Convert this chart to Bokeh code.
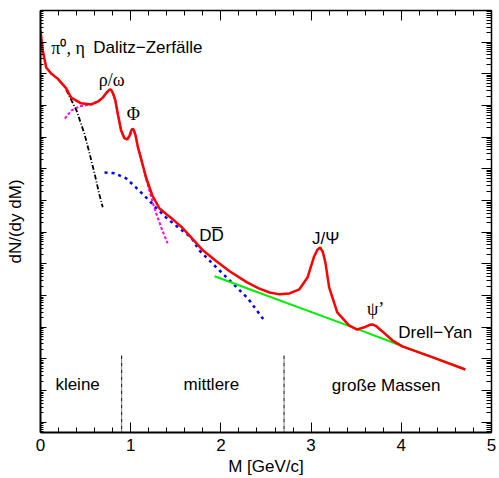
import numpy as np
from bokeh.plotting import figure
from bokeh.models import FixedTicker, LinearAxis, LogAxis, Range1d, CustomJSTickFormatter
from bokeh.core.properties import value
from bokeh.embed import file_html
from bokeh.resources import INLINE

# ---- data (mass in GeV/c, log10 of dN/(dy dM)) ----
total_m = [0.00, 0.025, 0.063, 0.118, 0.19, 0.285, 0.34, 0.45, 0.56, 0.64, 0.69, 0.734,
           0.76, 0.775, 0.79, 0.81, 0.83, 0.856, 0.894, 0.93, 0.96, 0.985, 1.005, 1.02, 1.035, 1.055, 1.08, 1.12,
           1.17, 1.24, 1.32, 1.40, 1.47, 1.57, 1.67, 1.80, 1.94, 2.10, 2.29, 2.42, 2.54,
           2.65, 2.76, 2.87, 2.96, 3.03, 3.07, 3.10, 3.13, 3.16, 3.20, 3.29, 3.42, 3.51, 3.59, 3.65, 3.68,
           3.72, 3.79, 3.90, 4.01, 4.35, 4.71]
total_log = [-0.63, -1.26, -1.80, -1.99, -2.15, -2.46, -2.75, -2.93, -2.97, -2.87, -2.75, -2.59,
             -2.51, -2.49, -2.53, -2.66, -2.84, -3.25, -3.79, -4.03, -4.07, -3.97, -3.80, -3.73, -3.77, -3.95, -4.31, -4.73,
             -5.27, -5.84, -6.25, -6.44, -6.60, -6.85, -7.16, -7.57, -7.89, -8.24, -8.58, -8.77, -8.90,
             -8.96, -8.93, -8.80, -8.43, -7.79, -7.55, -7.48, -7.62, -7.98, -8.74, -9.53, -9.94, -10.07, -10.00, -9.92, -9.91,
             -9.96, -10.13, -10.41, -10.60, -10.95, -11.33]

dalitz_m = [0.284, 0.40, 0.487, 0.54, 0.60, 0.65, 0.69]
dalitz_log = [-2.50, -3.16, -3.89, -4.47, -5.15, -5.78, -6.21]

vector_m = [0.27, 0.34, 0.43, 0.54, 0.64, 0.69, 0.734, 0.775, 0.80, 0.83, 0.856, 0.894,
            0.93, 0.96, 0.997, 1.02, 1.05, 1.08, 1.12, 1.17, 1.26, 1.35, 1.41]
vector_log = [-3.41, -3.16, -3.03, -2.97, -2.87, -2.75, -2.59, -2.49, -2.59, -2.84, -3.25, -3.79,
              -4.03, -4.07, -3.91, -3.73, -3.89, -4.31, -4.73, -5.30, -6.22, -6.94, -7.35]

charm_m = [0.71, 0.82, 0.95, 1.06, 1.17, 1.28, 1.39, 1.54, 1.67, 1.76, 1.95, 2.13, 2.30, 2.48]
charm_log = [-5.11, -5.14, -5.30, -5.59, -5.90, -6.22, -6.53, -6.88, -7.16, -7.57, -8.11, -8.61, -9.09, -9.78]

dy_m = [1.93, 2.31, 3.50, 4.00, 4.71]
dy_log = [-8.39, -8.79, -10.04, -10.58, -11.33]

region_bounds = [0.9, 2.7]
x_ticks = [0, 1, 2, 3, 4, 5]
y_decades = list(range(-13, 1))

FONT = "Liberation Sans"
SERIF = "Liberation Serif"

p = figure(width=499, height=478, output_backend="svg", toolbar_location=None,
           y_axis_type="log", x_range=Range1d(0, 5),
           y_range=Range1d(10 ** -13.32, 1.0),
           min_border_left=40, min_border_right=8, min_border_top=10, min_border_bottom=46)
p.xgrid.visible = False
p.ygrid.visible = False
p.outline_line_color = None
p.background_fill_color = "white"
p.border_fill_color = "white"

xt = FixedTicker(ticks=x_ticks, minor_ticks=[i * 0.2 for i in range(26)])
yt = FixedTicker(ticks=[10.0 ** k for k in y_decades],
                 minor_ticks=[m * 10.0 ** k for k in range(-14, 1) for m in range(1, 10)])
blank = CustomJSTickFormatter(code="return ''")

def style_axis(ax, major_in, minor_in, lw):
    ax.major_tick_in = major_in
    ax.major_tick_out = 0
    ax.minor_tick_in = minor_in
    ax.minor_tick_out = 0
    ax.axis_line_width = lw
    ax.axis_line_color = "black"
    ax.major_tick_line_color = "black"
    ax.minor_tick_line_color = "black"

xa = p.xaxis[0]
xa.ticker = xt
style_axis(xa, 10, 5, 2)
xa.major_label_text_font = FONT
xa.major_label_text_font_size = "17px"
xa.major_label_text_color = "black"
xa.major_label_standoff = 6
xa.axis_label = "M [GeV/c]"
xa.axis_label_text_font = FONT
xa.axis_label_text_font_size = "17px"
xa.axis_label_text_font_style = "normal"
xa.axis_label_text_color = "black"
xa.axis_label_standoff = 3

ya = p.yaxis[0]
ya.ticker = yt
style_axis(ya, 6, 3, 2)
ya.formatter = blank
ya.major_label_standoff = 0
ya.axis_label = "dN/(dy dM)"
ya.axis_label_text_font = FONT
ya.axis_label_text_font_size = "17px"
ya.axis_label_text_font_style = "normal"
ya.axis_label_text_color = "black"
ya.axis_label_standoff = 16

top = LinearAxis(ticker=xt, formatter=CustomJSTickFormatter(code="return ''"), major_label_standoff=0)
style_axis(top, 10, 5, 1.5)
p.add_layout(top, "above")
right = LogAxis(ticker=yt, formatter=CustomJSTickFormatter(code="return ''"), major_label_standoff=0)
style_axis(right, 10, 5, 1.5)
p.add_layout(right, "right")

def y(vals):
    return 10.0 ** np.array(vals)

p.line(vector_m, y(vector_log), line_color="#ff00ff", line_width=2, line_dash="3 2")
p.line(dalitz_m, y(dalitz_log), line_color="black", line_width=1.8, line_dash="5 2 1 2")
p.line(charm_m, y(charm_log), line_color="#0000ff", line_width=2.5, line_dash="3 4")
p.line(dy_m, y(dy_log), line_color="#00ee00", line_width=2)
p.line(total_m, y(total_log), line_color="red", line_width=2.5)

# region dividers
p.segment(x0=region_bounds, x1=region_bounds, y0=[10 ** -10.89] * 2, y1=[10 ** -13.32] * 2,
          line_color="black", line_width=1, line_dash="4 1 1 1")

def txt(x, ylog, s, font=FONT, align="left", size="17px"):
    p.text(x=[x], y=[10 ** ylog], text=[s], text_font=value(font), text_font_size=size,
           text_align=align, text_baseline="middle", text_color="black")

txt(0.12, -1.17, "π⁰, η", font=SERIF, size="18px")
txt(0.585, -1.17, "Dalitz−Zerfälle")
txt(0.645, -2.18, "ρ/ω", font=SERIF, size="18px")
txt(1.03, -3.26, "Φ", font=SERIF, align="center", size="18px")
txt(1.76, -7.11, "DD̅")
txt(3.01, -7.20, "J/Ψ", size="17px")
txt(3.62, -9.41, "ψ’", font=SERIF, size="18px")
txt(3.967, -10.17, "Drell−Yan")
txt(0.165, -11.80, "kleine")
txt(1.585, -11.80, "mittlere")
txt(3.23, -11.83, "große Massen")

open("out.html", "w").write(file_html(p, INLINE))
